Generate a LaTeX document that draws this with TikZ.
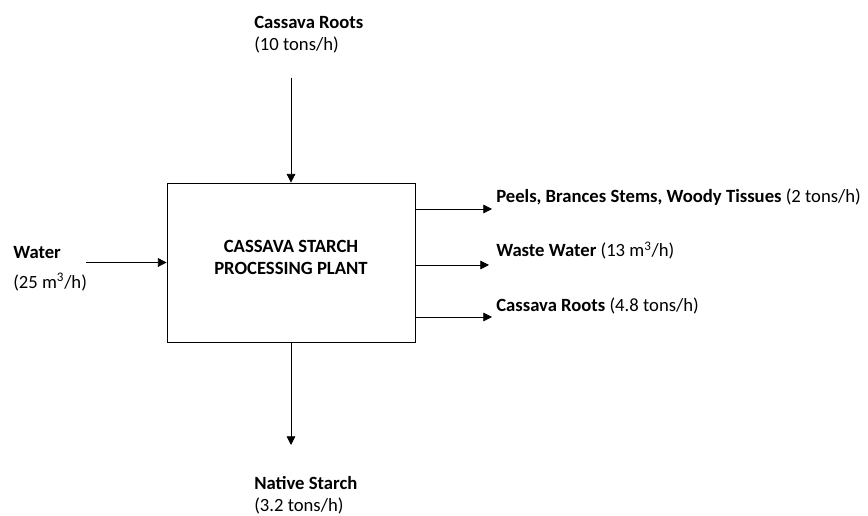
\documentclass[tikz,border=0pt]{standalone}
\usepackage{fontspec}
\setmainfont{Carlito}
\usepackage{tikz}
\usetikzlibrary{arrows.meta,positioning}

\begin{document}
\begin{tikzpicture}[
        x=0.75pt, y=0.75pt,
        plant/.style={draw, line width=0.6pt, minimum width=186pt, minimum height=119.25pt, inner sep=0pt},
        flow/.style={inner sep=0pt, align=left, font=\fontsize{14}{16.5}\selectfont},
        arr/.style={-{Triangle[length=6.5pt, width=6.5pt]}, line width=0.6pt},
    ]
        \useasboundingbox (0,0) rectangle (868,516);
        \node[plant] (plant) at (291,253.5) {};
        \node[font=\fontsize{14}{16.5}\selectfont\bfseries, align=center, inner sep=0pt] (title) at (291,259) {CASSAVA STARCH\\PROCESSING PLANT};
        \node[flow, anchor=north west] (roots) at (254,500) {\textbf{Cassava Roots}\\(10 tons/h)};
        \node[flow, anchor=north west] (water) at (13,270) {\textbf{Water}\\[6pt](25 m\textsuperscript{3}/h)};
        \node[flow, anchor=north west] (starch) at (254,40) {\textbf{Native Starch}\\(3.2 tons/h)};
        \node[flow, anchor=base west] (peels) at (496,313) {\textbf{Peels, Brances Stems, Woody Tissues} (2 tons/h)};
        \node[flow, anchor=base west] (waste) at (496,259) {\textbf{Waste Water} (13 m\textsuperscript{3}/h)};
        \node[flow, anchor=base west] (rootsout) at (496,204) {\textbf{Cassava Roots} (4.8 tons/h)};
        \coordinate (rootsin) at (291,438);
        \coordinate (waterin) at (86,253.5);
        \coordinate (starchout) at (291,71);
        \coordinate (peelsend) at (492,307);
        \coordinate (wasteend) at (489,251);
        \coordinate (rootsend) at (492,199);
        \draw[arr] (rootsin) -- (plant.north);
        \draw[arr] (waterin) -- (plant.west);
        \draw[arr] (plant.south) -- (starchout);
        \draw[arr] (plant.east |- peelsend) -- (peelsend);
        \draw[arr] (plant.east |- wasteend) -- (wasteend);
        \draw[arr] (plant.east |- rootsend) -- (rootsend);
    \end{tikzpicture}
\end{document}
